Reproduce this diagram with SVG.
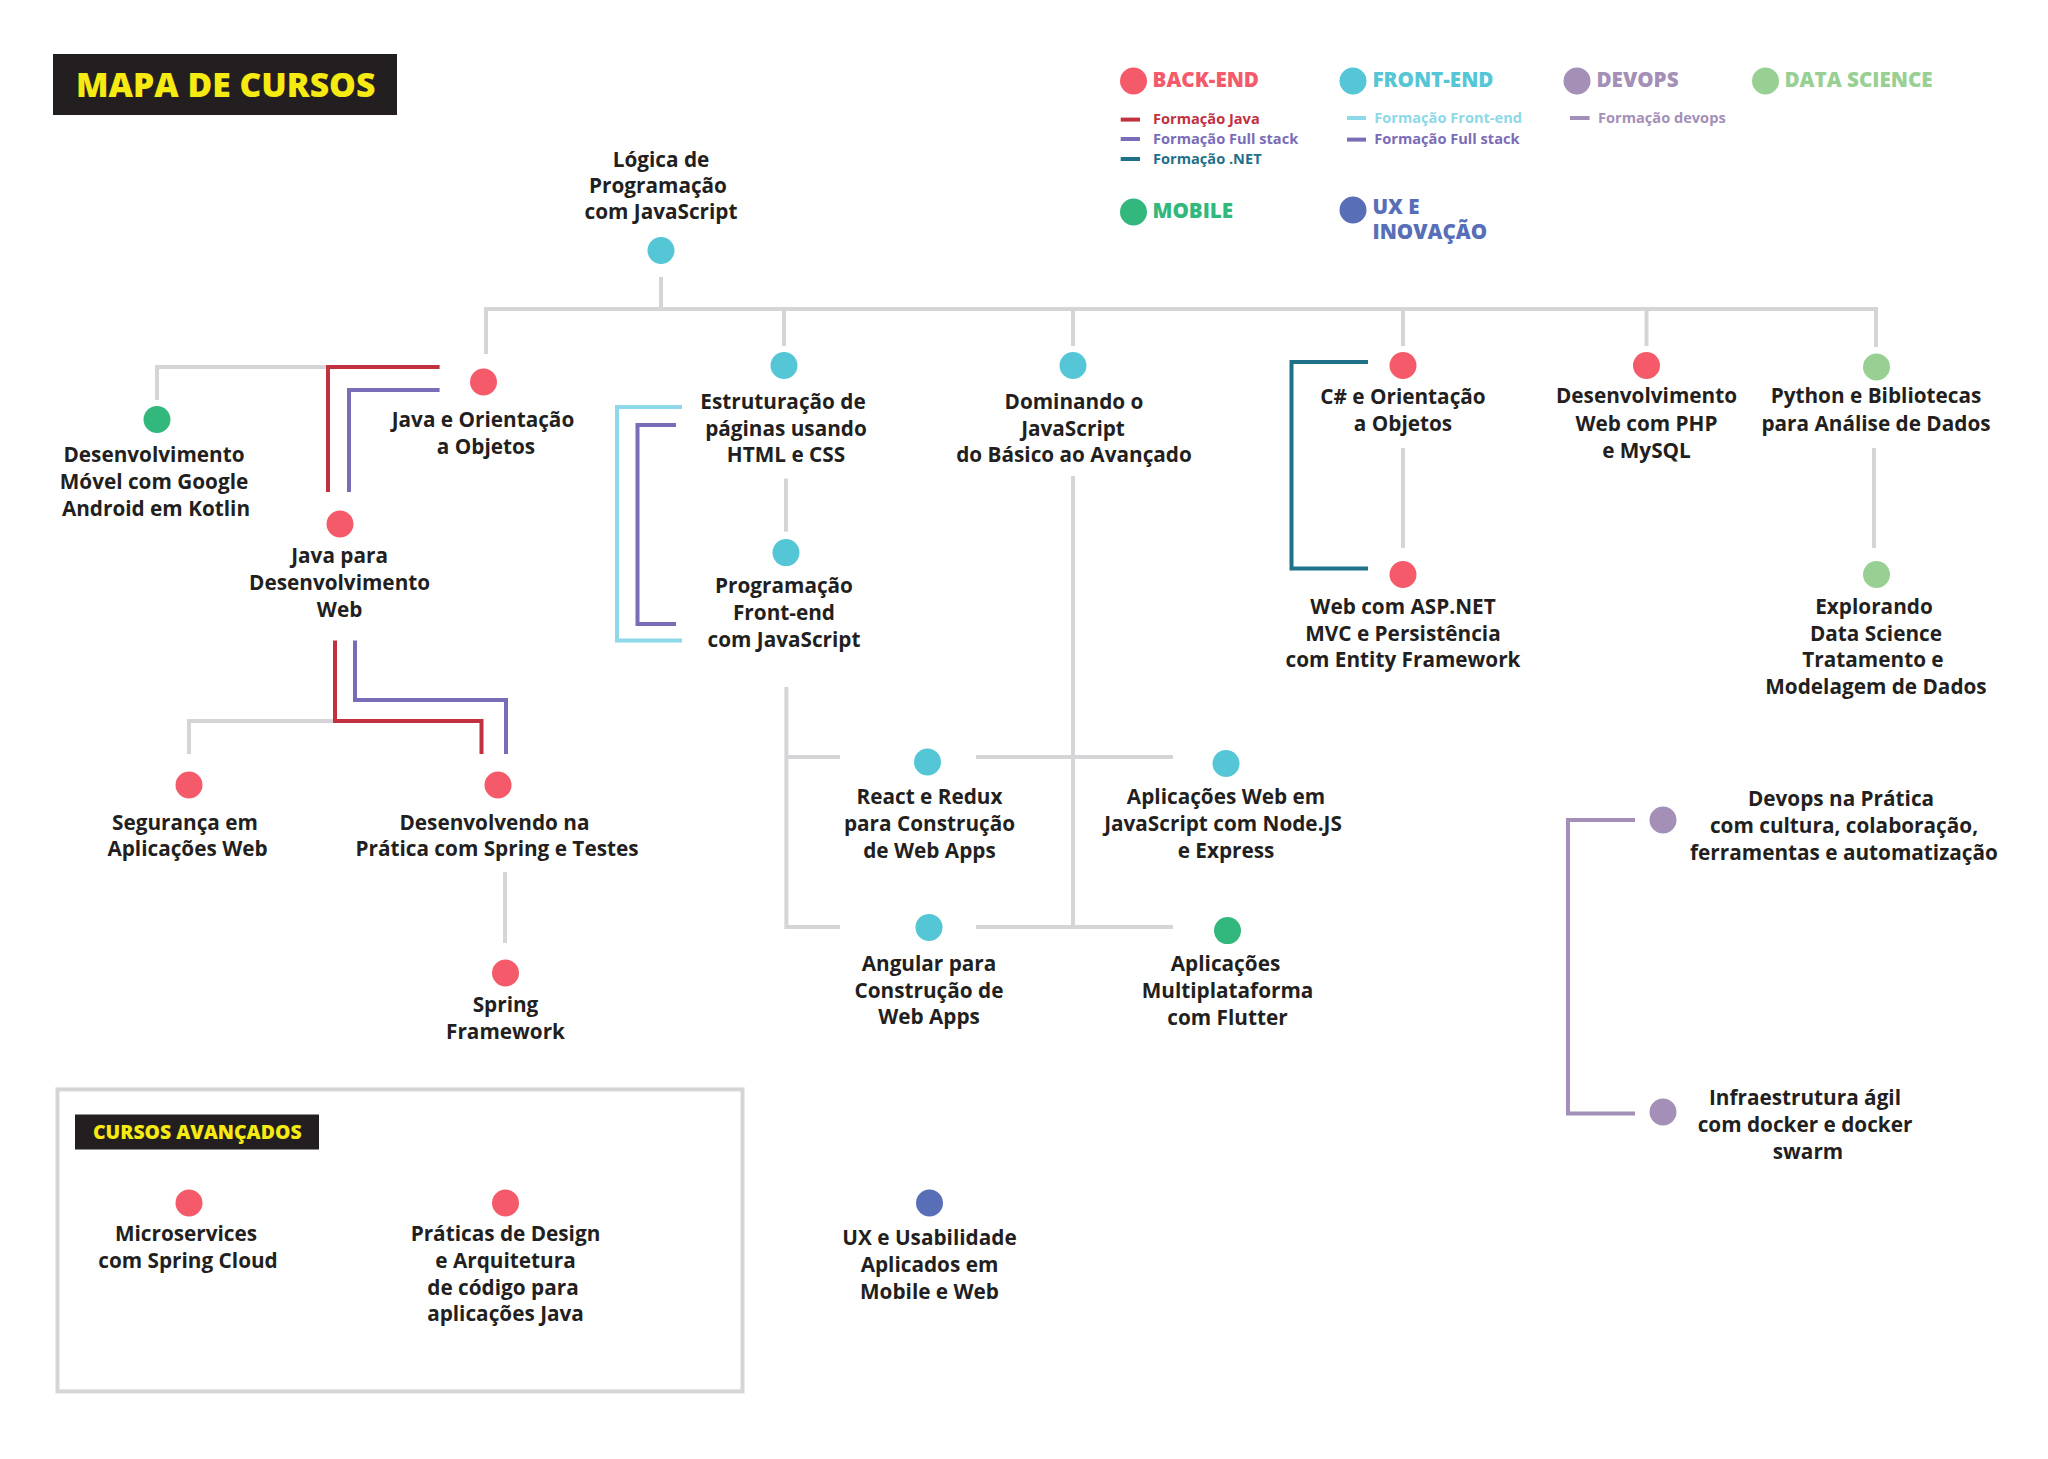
<svg xmlns="http://www.w3.org/2000/svg" width="2048" height="1459" viewBox="0 0 2048 1459">
<style>
text{font-family:"Open Sans","Noto Sans","Liberation Sans",sans-serif}
.l{font-size:20.75px;font-weight:700;fill:#231f20;text-anchor:middle;transform:translateY(-0.6px)}
.h{font-size:20.6px;font-weight:800}
.s{font-size:14.6px;font-weight:700}
.c{fill:none;stroke-width:4}
.g{stroke:#d5d5d7}.r{stroke:#c1313f}.p{stroke:#7a6cb6}.cy{stroke:#8dd8e9}.t{stroke:#1f7089}.d{stroke:#a48fb9}
.be{fill:#f45a69}.fe{fill:#55c6d6}.de{fill:#a48fb7}.ds{fill:#98d094}.mo{fill:#32b87c}.ux{fill:#586fb8}
</style>
<rect width="2048" height="1459" fill="#fff"/>
<g id="title"><rect x="53" y="54" width="344" height="61" fill="#231f20"/><text x="76" y="96.5" font-size="33.7" font-weight="800" fill="#f6ea13">MAPA DE CURSOS</text></g>
<g id="legend">
<circle class="be" cx="1133.5" cy="81" r="13.5"/><text class="h be" x="1152.5" y="87">BACK-END</text>
<circle class="fe" cx="1353" cy="81" r="13.5"/><text class="h fe" x="1372.5" y="87">FRONT-END</text>
<circle class="de" cx="1577" cy="81" r="13.5"/><text class="h de" x="1596.5" y="87">DEVOPS</text>
<circle class="ds" cx="1765.5" cy="81" r="13.5"/><text class="h ds" x="1784.5" y="87">DATA SCIENCE</text>
<circle class="mo" cx="1133.5" cy="212" r="13.5"/><text class="h mo" x="1152.5" y="218">MOBILE</text>
<circle class="ux" cx="1353" cy="210" r="13.5"/><text class="h ux" x="1372.5" y="213.5">UX E</text><text class="h ux" x="1372.5" y="239">INOVAÇÃO</text>
<path class="c r" d="M1120.7 119.6H1140"/><text class="s" fill="#c1313f" x="1153" y="124">Formação Java</text>
<path class="c p" d="M1120.7 139H1140"/><text class="s" fill="#7a6cb6" x="1153" y="144.3">Formação Full stack</text>
<path class="c t" d="M1120.7 159H1140"/><text class="s" fill="#1f7089" x="1153" y="164.3">Formação .NET</text>
<path class="c cy" d="M1347 118H1366"/><text class="s" fill="#8dd8e9" x="1374.3" y="123.4">Formação Front-end</text>
<path class="c p" d="M1347 139.6H1366"/><text class="s" fill="#7a6cb6" x="1374.3" y="144.3">Formação Full stack</text>
<path class="c d" d="M1570 118H1589.6"/><text class="s" fill="#a48fb9" x="1598" y="123.4">Formação devops</text>
</g>
<g id="connectors">
<path class="c g" d="M661 277V309M486 354V309H1876V347M784 309V346M1073 309V346M1403 309V346M1646.5 309V346"/>
<path class="c g" d="M157 400V367H328"/>
<path class="c r" d="M439.6 367H328V492"/>
<path class="c p" d="M439.6 390H349V492"/>
<path class="c g" d="M189 754V721H335"/>
<path class="c r" d="M335 640.6V721H481.5V754"/>
<path class="c p" d="M355 640.6V700H506V754"/>
<path class="c g" d="M505 872V943"/>
<path class="c g" d="M786 478.6V531.6"/>
<path class="c cy" d="M682 407H617V640.6H682"/>
<path class="c p" d="M676 425H637.5V624H676"/>
<path class="c g" d="M840 757H786.4M786.4 687V927H840"/>
<path class="c g" d="M976 757H1173M976 927H1173M1073 476V927"/>
<path class="c t" d="M1368 362H1291.5V568.4H1368"/>
<path class="c g" d="M1403 448V548"/>
<path class="c g" d="M1874 448V548"/>
<path class="c d" d="M1635 820H1568V1113.6H1635"/>
</g>
<g id="n-logica"><circle class="fe" cx="661" cy="250.5" r="13.5"/><text class="l" x="661" y="167.6">Lógica de</text><text class="l" x="658" y="194">Programação</text><text class="l" x="661" y="220">com JavaScript</text></g>
<g id="n-java-oo"><circle class="be" cx="483.5" cy="382" r="13.5"/><text class="l" x="483" y="428">Java e Orientação</text><text class="l" x="486" y="455">a Objetos</text></g>
<g id="n-kotlin"><circle class="mo" cx="157" cy="419.5" r="13.5"/><text class="l" x="154" y="463">Desenvolvimento</text><text class="l" x="154" y="490">Móvel com Google</text><text class="l" x="156" y="517">Android em Kotlin</text></g>
<g id="n-java-web"><circle class="be" cx="340" cy="524" r="13.5"/><text class="l" x="339.6" y="564">Java para</text><text class="l" x="339.6" y="591">Desenvolvimento</text><text class="l" x="339.6" y="618">Web</text></g>
<g id="n-seguranca"><circle class="be" cx="189" cy="785" r="13.5"/><text class="l" x="185" y="830.5">Segurança em</text><text class="l" x="187.5" y="857">Aplicações Web</text></g>
<g id="n-spring-testes"><circle class="be" cx="498" cy="785" r="13.5"/><text class="l" x="494.5" y="830.5">Desenvolvendo na</text><text class="l" x="497" y="857">Prática com Spring e Testes</text></g>
<g id="n-spring"><circle class="be" cx="505.5" cy="973" r="13.5"/><text class="l" x="505.5" y="1013">Spring</text><text class="l" x="505.5" y="1039.6">Framework</text></g>
<g id="n-avancados"><rect x="57.5" y="1089.4" width="685" height="302" fill="none" stroke="#d5d5d7" stroke-width="4"/><rect x="75" y="1114.5" width="244" height="35" fill="#231f20"/><text x="93" y="1139" font-size="19.4" font-weight="800" fill="#f6ea13">CURSOS AVANÇADOS</text></g>
<g id="n-micro"><circle class="be" cx="189" cy="1203" r="13.5"/><text class="l" x="186" y="1242">Microservices</text><text class="l" x="188" y="1269">com Spring Cloud</text></g>
<g id="n-praticas"><circle class="be" cx="505.5" cy="1203" r="13.5"/><text class="l" x="505.5" y="1242">Práticas de Design</text><text class="l" x="505.5" y="1269">e Arquitetura</text><text class="l" x="503" y="1296">de código para</text><text class="l" x="505.5" y="1322">aplicações Java</text></g>
<g id="n-ux"><circle class="ux" cx="929.5" cy="1203" r="13.5"/><text class="l" x="929.5" y="1246">UX e Usabilidade</text><text class="l" x="929.5" y="1273">Aplicados em</text><text class="l" x="929.5" y="1300">Mobile e Web</text></g>
<g id="n-html"><circle class="fe" cx="784" cy="365.5" r="13.5"/><text class="l" x="783" y="409.7">Estruturação de</text><text class="l" x="786" y="436.7">páginas usando</text><text class="l" x="786" y="463">HTML e CSS</text></g>
<g id="n-frontend"><circle class="fe" cx="786" cy="552.6" r="13.5"/><text class="l" x="784" y="594">Programação</text><text class="l" x="784" y="620.6">Front-end</text><text class="l" x="784" y="647.6">com JavaScript</text></g>
<g id="n-dominando"><circle class="fe" cx="1073" cy="365.5" r="13.5"/><text class="l" x="1074" y="409.7">Dominando o</text><text class="l" x="1073" y="436.7">JavaScript</text><text class="l" x="1074" y="463">do Básico ao Avançado</text></g>
<g id="n-react"><circle class="fe" cx="927.5" cy="762" r="13.5"/><text class="l" x="929.5" y="804.5">React e Redux</text><text class="l" x="929.5" y="831.5">para Construção</text><text class="l" x="929.5" y="858.5">de Web Apps</text></g>
<g id="n-angular"><circle class="fe" cx="929" cy="927.4" r="13.5"/><text class="l" x="929" y="972">Angular para</text><text class="l" x="929" y="999">Construção de</text><text class="l" x="929" y="1025">Web Apps</text></g>
<g id="n-node"><circle class="fe" cx="1226" cy="763.5" r="13.5"/><text class="l" x="1226" y="804.5">Aplicações Web em</text><text class="l" x="1223" y="831.5">JavaScript com Node.JS</text><text class="l" x="1226" y="858.5">e Express</text></g>
<g id="n-flutter"><circle class="mo" cx="1227.5" cy="930.6" r="13.5"/><text class="l" x="1225.5" y="972">Aplicações</text><text class="l" x="1227.5" y="999">Multiplataforma</text><text class="l" x="1227.5" y="1025.6">com Flutter</text></g>
<g id="n-csharp"><circle class="be" cx="1403" cy="365.5" r="13.5"/><text class="l" x="1403" y="405">C# e Orientação</text><text class="l" x="1403" y="431.6">a Objetos</text></g>
<g id="n-aspnet"><circle class="be" cx="1403" cy="574.5" r="13.5"/><text class="l" x="1403" y="614.5">Web com ASP.NET</text><text class="l" x="1403" y="641.5">MVC e Persistência</text><text class="l" x="1403" y="667.6">com Entity Framework</text></g>
<g id="n-php"><circle class="be" cx="1646.5" cy="365.5" r="13.5"/><text class="l" x="1646.5" y="404">Desenvolvimento</text><text class="l" x="1646.5" y="431.5">Web com PHP</text><text class="l" x="1646.5" y="458.6">e MySQL</text></g>
<g id="n-python"><circle class="ds" cx="1876.5" cy="367" r="13.5"/><text class="l" x="1876" y="404">Python e Bibliotecas</text><text class="l" x="1876" y="431.5">para Análise de Dados</text></g>
<g id="n-explorando"><circle class="ds" cx="1876.5" cy="574.5" r="13.5"/><text class="l" x="1874" y="614.5">Explorando</text><text class="l" x="1876" y="641.5">Data Science</text><text class="l" x="1873" y="667.6">Tratamento e</text><text class="l" x="1876" y="694.6">Modelagem de Dados</text></g>
<g id="n-devops"><circle class="de" cx="1663" cy="820" r="13.5"/><text class="l" x="1841" y="807">Devops na Prática</text><text class="l" x="1844" y="834">com cultura, colaboração,</text><text class="l" x="1844" y="861">ferramentas e automatização</text></g>
<g id="n-infra"><circle class="de" cx="1663" cy="1112" r="13.5"/><text class="l" x="1805" y="1106">Infraestrutura ágil</text><text class="l" x="1805" y="1133">com docker e docker</text><text class="l" x="1808" y="1160">swarm</text></g>
</svg>
